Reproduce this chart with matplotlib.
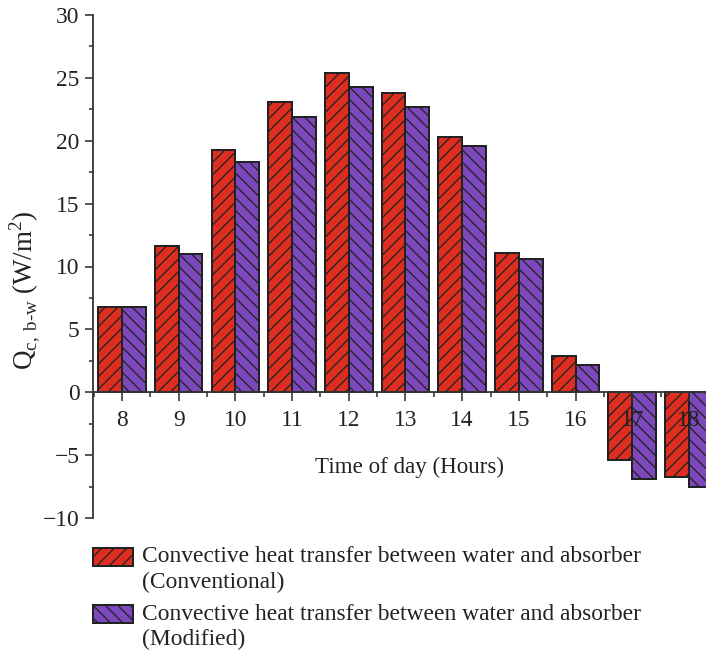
import matplotlib
matplotlib.use("Agg")
import matplotlib.pyplot as plt
from matplotlib.patches import Rectangle
from matplotlib.ticker import MultipleLocator
import numpy as np

hours = [8, 9, 10, 11, 12, 13, 14, 15, 16, 17, 18]
conventional = [6.8, 11.6, 19.3, 23.1, 25.4, 23.8, 20.3, 11.1, 2.9, -5.4, -6.7]
modified = [6.8, 11.0, 18.3, 21.9, 24.3, 22.7, 19.6, 10.6, 2.2, -6.9, -7.5]
series_names = ["Convective heat transfer between water and absorber\n(Conventional)",
                "Convective heat transfer between water and absorber\n(Modified)"]

DPI = 150


def P(px):
    """pixels -> points at the output dpi"""
    return px * 72.0 / DPI


plt.rcParams['font.family'] = ['Liberation Serif', 'DejaVu Serif']
plt.rcParams['mathtext.fontset'] = 'custom'
plt.rcParams['mathtext.rm'] = 'Liberation Serif'
plt.rcParams['hatch.linewidth'] = P(1.3)
plt.rcParams['hatch.color'] = '#222222'

red = '#DE2E1F'
purple = '#7E48BD'
edge = '#222222'
txt = '#222222'
colors = [red, purple]
hatches = ['////', '\\\\\\\\']

W, H = 706, 654
fig = plt.figure(figsize=(W / DPI, H / DPI), dpi=DPI)
ax = fig.add_axes([93 / W, 1 - 518 / H, 1 - 93 / W, (518 - 15) / H])

x = np.array(hours, dtype=float)
w = 0.42
ax.bar(x - w / 2, conventional, width=w, color=red, edgecolor=edge,
       linewidth=P(2.0), hatch=hatches[0], zorder=2)
ax.bar(x + w / 2, modified, width=w, color=purple, edgecolor=edge,
       linewidth=P(2.0), hatch=hatches[1], zorder=2)

ax.set_xlim(7.49, 18.3)
ax.set_ylim(-10, 30)

for s in ['top', 'right']:
    ax.spines[s].set_visible(False)
ax.spines['bottom'].set_position(('data', 0))
for s in ['left', 'bottom']:
    ax.spines[s].set_color('#333333')
    ax.spines[s].set_linewidth(P(1.8))
    ax.spines[s].set_zorder(3)
ax.xaxis.set_zorder(4)

ax.set_xticks(hours)
ax.set_xticklabels([str(h) for h in hours])
ax.xaxis.set_minor_locator(MultipleLocator(0.5))
ax.set_yticks(np.arange(-10, 31, 5))
ax.set_yticklabels([str(v).replace('-', '\u2212') for v in range(-10, 31, 5)])
ax.yaxis.set_minor_locator(MultipleLocator(2.5))

FS = P(23.5)
ax.tick_params(axis='both', which='major', direction='out', length=P(8.5), width=P(1.6),
               color='#333333', labelsize=FS, pad=P(5), labelcolor=txt)
ax.tick_params(axis='both', which='minor', direction='out', length=P(4.5), width=P(1.6),
               color='#333333')
ax.tick_params(axis='x', which='major', pad=P(9))

ax.set_ylabel(r'Q$_{\mathregular{c,\,b\text{-}w}}$ (W/m$^{\mathregular{2}}$)',
              fontsize=P(27), color=txt, ha='center', va='center')
ax.yaxis.set_label_coords((25 - 93) / (W - 93), (518 - 290) / (518 - 15))

ax.text(13.08, -5.97, 'Time of day (Hours)', ha='center', va='center',
        fontsize=P(23), color=txt)

# legend drawn in figure pixel layout
entries = [(548, 566, 557), (605, 623, 614)]
for (top, bot, yc), c, hch, name in zip(entries, colors, hatches, series_names):
    fig.patches.append(Rectangle((93 / W, 1 - bot / H), 40 / W, (bot - top) / H,
                                 transform=fig.transFigure, facecolor=c, edgecolor=edge,
                                 linewidth=P(2.0), hatch=hch, figure=fig))
    lines = name.split('\n')
    fig.text(142 / W, 1 - yc / H, lines[0], ha='left', va='center', fontsize=P(23.5),
             color=txt)
    fig.text(142 / W, 1 - (yc + 25) / H, lines[1], ha='left', va='center', fontsize=P(23.5),
             color=txt)

fig.savefig('out.png', dpi=DPI)
